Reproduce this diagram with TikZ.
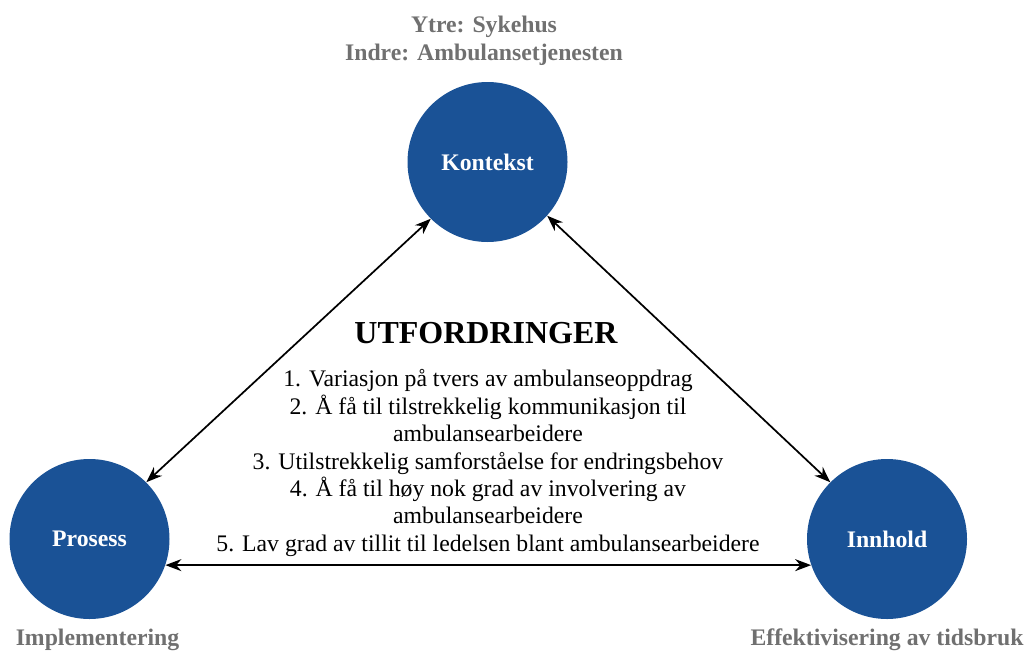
\documentclass[tikz,border=0pt]{standalone}
\usepackage{fontspec}
\setmainfont{Liberation Serif}
\usetikzlibrary{arrows.meta}
\definecolor{cblue}{RGB}{26,82,150}
\definecolor{cgray}{RGB}{112,112,112}
\tikzset{
  circ/.style={circle, fill=cblue, minimum size=160*0.75pt, inner sep=0pt, text=white, font=\fontsize{17.8}{20}\selectfont\bfseries},
  lab/.style={text=cgray, font=\fontsize{17.8}{21}\selectfont\bfseries, align=center, inner sep=0pt},
  conn/.style={line width=1.3pt, {Stealth[length=12pt,width=9pt]}-{Stealth[length=12pt,width=9pt]}}
}
\begin{document}
\begin{tikzpicture}[x=0.75pt,y=-0.75pt]
\useasboundingbox (0,0) rectangle (1030,650);
\node[circ] (kon) at (487.5,162) {Kontekst};
\node[circ] (pro) at (89.5,539) {Prosess};
\node[circ] (inn) at (887,539) {Innhold};
\node[lab] (top) at (484,41) {Ytre: Sykehus\\Indre: Ambulansetjenesten};
\node[lab] (impl) at (97.5,640) {Implementering};
\node[lab] (eff) at (887,640) {Effektivisering av tidsbruk};
\node[font=\fontsize{24}{28}\selectfont\bfseries, inner sep=0pt] (title) at (486,333) {UTFORDRINGER};
\node[font=\fontsize{17.8}{20.6}\selectfont, align=center, inner sep=0pt] (list) at (488,463) {1. Variasjon på tvers av ambulanseoppdrag\\
2. Å få til tilstrekkelig kommunikasjon til\\
ambulansearbeidere\\
3. Utilstrekkelig samforståelse for endringsbehov\\
4. Å få til høy nok grad av involvering av\\
ambulansearbeidere\\
5. Lav grad av tillit til ledelsen blant ambulansearbeidere};
\draw[conn] (kon.225) -- (pro.45);
\draw[conn] (kon.-42) -- (inn.135);
\draw[conn] (pro.-19) -- (inn.199);
\end{tikzpicture}
\end{document}
